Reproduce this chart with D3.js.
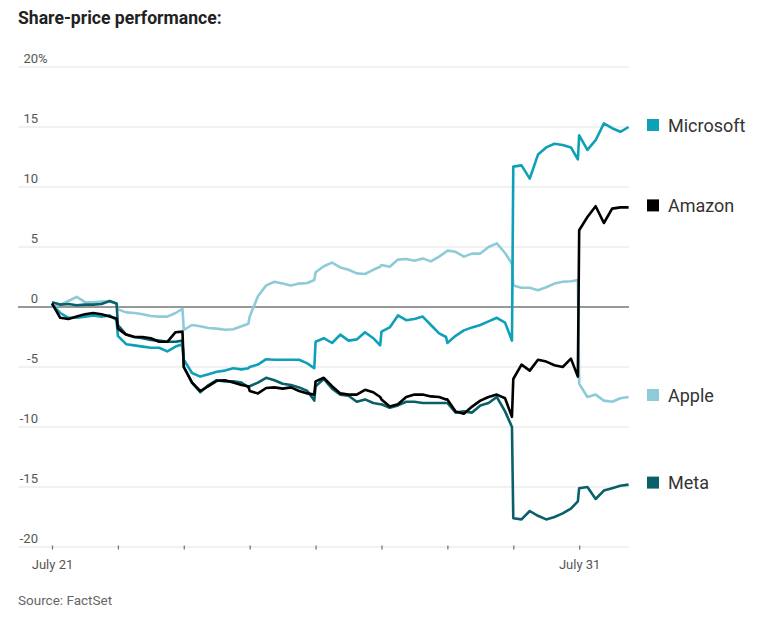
<!DOCTYPE html>
<html>
<head>
<meta charset="utf-8">
<script src="https://cdn.jsdelivr.net/npm/d3@7"></script>
<style>
  body { margin: 0; background: #fff; }
  text { font-family: Roboto, "Noto Sans", sans-serif; }
</style>
</head>
<body>
<svg id="chart" width="759" height="630"></svg>
<script>
// trading sessions, July 21 .. July 31 (ticks at each session open)
const sessionLabels = ['July 21', '', '', '', '', '', '', '', 'July 31'];
// sample points within a session (fraction of a session), last one is the close
const intraday = [0, 0.125, 0.25, 0.375, 0.5, 0.625, 0.75, 0.875, 0.98];
const lastSessionEnd = 0.75;

const yTicks = [20, 15, 10, 5, 0, -5, -10, -15, -20];

// % change, one row per session
const microsoft = [
  0.2, -0.5, -0.9, -0.9, -0.8, -0.7, -0.8, -0.7, -1.1,
  -2.4, -3.1, -3.2, -3.3, -3.4, -3.4, -3.7, -3.3, -3.1,
  -4.4, -5.5, -5.8, -5.6, -5.4, -5.3, -5.1, -5.2, -5.1,
  -5.0, -4.8, -4.35, -4.4, -4.4, -4.4, -4.4, -4.7, -5.1,
  -2.9, -2.6, -3.0, -2.3, -2.8, -2.7, -2.1, -2.6, -3.2,
  -2.05, -1.7, -0.7, -1.1, -1.0, -0.8, -1.5, -2.2, -2.5,
  -3.0, -2.4, -1.95, -1.7, -1.5, -1.2, -0.9, -1.3, -2.8,
  11.7, 11.8, 10.7, 12.7, 13.3, 13.6, 13.5, 13.3, 12.3,
  14.3, 13.1, 13.9, 15.3, 14.9, 14.6, 15.0
];
const amazon = [
  0.3, -0.9, -1.0, -0.8, -0.6, -0.5, -0.6, -0.8, -0.95,
  -1.8, -2.3, -2.5, -2.5, -2.6, -2.9, -2.9, -2.1, -2.05,
  -5.0, -6.3, -7.0, -6.6, -6.15, -6.1, -6.3, -6.5, -6.6,
  -7.0, -7.2, -6.75, -6.7, -6.8, -6.7, -7.0, -7.2, -7.3,
  -6.2, -5.9, -6.6, -7.2, -7.3, -7.3, -6.9, -7.1, -7.5,
  -7.7, -8.3, -8.1, -7.5, -7.3, -7.3, -7.45, -7.5, -7.7,
  -7.7, -8.7, -8.9, -8.3, -7.8, -7.5, -7.3, -7.6, -9.15,
  -6.0, -4.8, -5.3, -4.4, -4.55, -4.85, -5.0, -4.3, -5.8,
  6.4, 7.5, 8.4, 7.0, 8.2, 8.3, 8.3
];
const apple = [
  0.0, 0.2, 0.5, 0.85, 0.4, 0.4, 0.45, 0.45, 0.3,
  -0.2, -0.45, -0.5, -0.6, -0.75, -0.8, -0.8, -0.5, -0.15,
  -1.9, -1.5, -1.6, -1.75, -1.8, -1.9, -1.85, -1.6, -1.4,
  -0.8, 0.9, 1.8, 2.1, 1.95, 1.8, 1.95, 2.0, 2.25,
  2.9, 3.4, 3.7, 3.3, 3.1, 2.8, 2.75, 3.1, 3.35,
  3.5, 3.35, 3.95, 4.0, 3.85, 4.05, 3.8, 4.2, 4.6,
  4.7, 4.6, 4.2, 4.45, 4.45, 5.0, 5.3, 4.5, 3.6,
  1.8, 1.6, 1.6, 1.4, 1.65, 1.95, 2.1, 2.15, 2.25,
  -6.4, -7.5, -7.3, -7.8, -7.9, -7.6, -7.5
];
const meta = [
  0.4, 0.2, 0.25, 0.15, 0.2, 0.2, 0.25, 0.5, 0.3,
  -1.5, -2.3, -2.5, -2.6, -2.75, -2.8, -2.9, -2.9, -2.8,
  -5.0, -6.3, -7.1, -6.5, -6.1, -6.2, -6.2, -6.3, -6.7,
  -6.6, -6.3, -5.9, -6.1, -6.4, -6.5, -6.7, -7.0, -7.8,
  -6.6, -6.0, -6.8, -7.3, -7.4, -7.9, -7.7, -8.0, -8.1,
  -8.1, -8.4, -8.2, -7.9, -7.9, -8.0, -8.0, -8.0, -8.0,
  -8.0, -8.8, -8.7, -8.8, -8.2, -8.0, -7.5, -8.7, -10.0,
  -17.6, -17.7, -17.0, -17.4, -17.7, -17.5, -17.2, -16.8, -16.2,
  -15.1, -15.0, -16.0, -15.3, -15.1, -14.9, -14.8
];

const seriesNames = ['Apple', 'Meta', 'Microsoft', 'Amazon'];
const seriesValues = [apple, meta, microsoft, amazon];
const seriesColors = ['#8ecbd9', '#0a6069', '#0fa0b9', '#000000'];

// sample times (in sessions)
const times = [];
sessionLabels.forEach((lab, d) => {
  intraday.forEach(s => {
    if (d < sessionLabels.length - 1 || s <= lastSessionEnd) times.push(d + s);
  });
});

const svg = d3.select('#chart');

const gridLeft = 18, gridRight = 629;
const x = d3.scaleLinear()
  .domain([0, sessionLabels.length - 1 + lastSessionEnd])
  .range([52, 628.6]);
const y = d3.scaleLinear().domain([-20, 20]).range([547, 67]);

// title
svg.append('text')
  .attr('x', 18).attr('y', 24)
  .attr('font-size', 17.6).attr('font-weight', 700)
  .attr('fill', '#222')
  .text('Share-price performance:');

// gridlines + y labels
const grid = svg.append('g');
grid.selectAll('line')
  .data(yTicks)
  .join('line')
  .attr('x1', gridLeft).attr('x2', gridRight)
  .attr('y1', d => y(d)).attr('y2', d => y(d))
  .attr('stroke', d => d === 0 ? '#333' : '#e3e3e3')
  .attr('stroke-width', 1);

grid.selectAll('text')
  .data(yTicks)
  .join('text')
  .attr('x', 38).attr('y', d => y(d) - 4.5)
  .attr('text-anchor', 'end')
  .attr('font-size', 13).attr('fill', '#555')
  .text(d => d);

svg.append('text')
  .attr('x', 38).attr('y', y(yTicks[0]) - 4.5)
  .attr('font-size', 13).attr('fill', '#555')
  .text('%');

// x axis
const xAxis = d3.axisBottom(x)
  .tickValues(d3.range(sessionLabels.length))
  .tickFormat(d => sessionLabels[d])
  .tickSize(4)
  .tickPadding(10);

const xg = svg.append('g')
  .attr('transform', `translate(0,${y(-20) - 1.5})`)
  .call(xAxis);
xg.select('.domain').remove();
xg.selectAll('.tick line').attr('stroke', '#777').attr('stroke-width', 1.3);
xg.selectAll('.tick text')
  .attr('font-family', 'Roboto, sans-serif')
  .attr('font-size', 13).attr('fill', '#555');

// lines
const line = d3.line()
  .x((v, i) => x(times[i]))
  .y(v => y(v));

seriesValues.forEach((vals, i) => {
  svg.append('path')
    .datum(vals)
    .attr('fill', 'none')
    .attr('stroke', seriesColors[i])
    .attr('stroke-width', 2.6)
    .attr('stroke-linejoin', 'round')
    .attr('d', line);
});

// end labels
const legend = svg.append('g');
seriesNames.forEach((name, i) => {
  const vals = seriesValues[i];
  const yEnd = y(vals[vals.length - 1]);
  legend.append('rect')
    .attr('x', 647).attr('y', yEnd - 8)
    .attr('width', 12).attr('height', 12)
    .attr('fill', seriesColors[i]);
  legend.append('text')
    .attr('x', 668).attr('y', yEnd + 4.5)
    .attr('font-size', 18).attr('fill', '#333')
    .text(name);
});

// source
svg.append('text')
  .attr('x', 18).attr('y', 605)
  .attr('font-size', 13.5).attr('fill', '#666')
  .text('Source: FactSet');
</script>
</body>
</html>
